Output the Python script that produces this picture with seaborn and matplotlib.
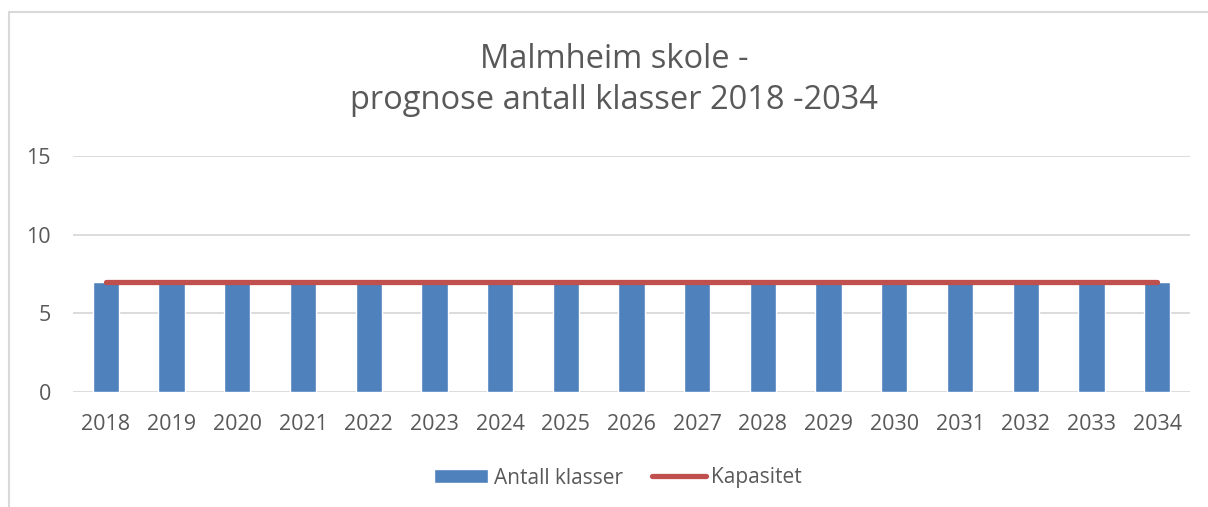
import numpy as np
import pandas as pd
import seaborn as sns
import matplotlib.pyplot as plt
from matplotlib.lines import Line2D
from matplotlib.patches import Patch

# chart data
years = [str(y) for y in range(2018, 2035)]
antall_klasser = [7] * 17
kapasitet = [7] * 17

title = "Malmheim skole -\nprognose antall klasser 2018 -2034"

sns.set_style('white')
plt.rcParams['font.family'] = ['Open Sans', 'DejaVu Sans']
txt = '#595959'

data = pd.DataFrame({'year': years, 'Antall klasser': antall_klasser, 'Kapasitet': kapasitet})

fig = plt.figure(figsize=(12.08, 5.07), dpi=100)
ax = fig.add_axes([73 / 1208, 1 - 392 / 507, (1190 - 73) / 1208, (392 - 156) / 507])

sns.barplot(data=data, x='year', y='Antall klasser', color='#4f81bd', width=0.4,
            saturation=1, ax=ax, zorder=2)
ax.plot(np.arange(len(years)), data['Kapasitet'], color='#c0504d', lw=3.8,
        solid_capstyle='round', zorder=3)

ax.set_ylim(0, 15)
ax.set_xlim(-0.5, len(years) - 0.5)
ax.set_yticks([0, 5, 10, 15])
ax.yaxis.grid(True, color='#d9d9d9', lw=1.3, zorder=0)
for s in ax.spines.values():
    s.set_visible(False)
ax.set_xlabel('')
ax.set_ylabel('')
ax.tick_params(axis='both', length=0, labelsize=15.5, labelcolor=txt)
ax.tick_params(axis='x', pad=16)
ax.tick_params(axis='y', pad=16)

fig.text(614 / 1208, 1 - 80 / 507, title, ha='center', va='center', fontsize=23.5,
         color=txt, linespacing=1.3)

handles = [Patch(facecolor='#4f81bd', label='Antall klasser'),
           Line2D([0], [0], color='#c0504d', lw=3.8, solid_capstyle='round', label='Kapasitet')]
fig.legend(handles=handles, loc='center', bbox_to_anchor=(618 / 1208, 1 - 478 / 507), ncol=2,
           frameon=False, fontsize=15, labelcolor=txt, handlelength=2.6, handleheight=0.65,
           handletextpad=0.25, columnspacing=1.4)

# outer chart border (left and top only visible)
fig.add_artist(Line2D([9 / 1208, 9 / 1208], [0, 1 - 12 / 507], transform=fig.transFigure,
                      color='#d9d9d9', lw=1.5))
fig.add_artist(Line2D([9 / 1208, 1], [1 - 12 / 507, 1 - 12 / 507], transform=fig.transFigure,
                      color='#d9d9d9', lw=1.5))

fig.savefig('out.png', dpi=100)
